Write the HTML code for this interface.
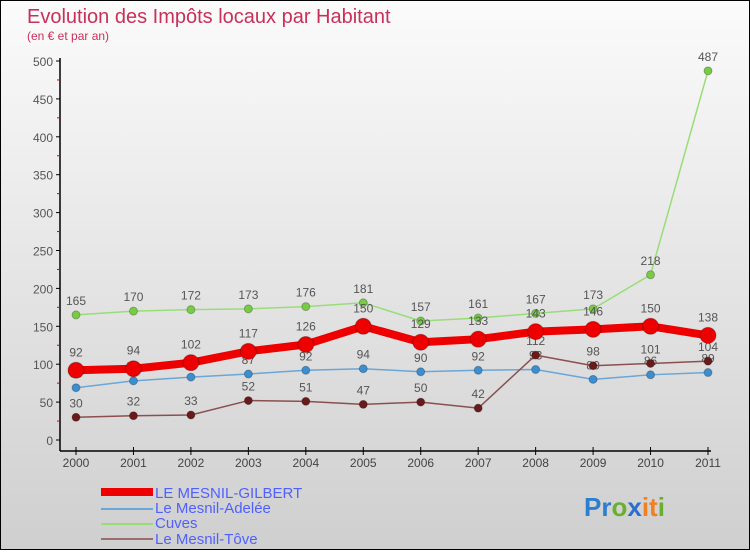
<!DOCTYPE html>
<html><head><meta charset="utf-8"><style>
html,body{margin:0;padding:0}
body{width:750px;height:550px;overflow:hidden;font-family:"Liberation Sans",sans-serif}
#wrap{position:relative;width:748px;height:548px;border:1px solid #000;background:linear-gradient(#fbfbfb,#cfcfcf)}
</style></head><body>
<div id="wrap">
<svg id="chart" width="748" height="548">
<text x="26" y="22" font-size="20" fill="#c8305a">Evolution des Impôts locaux par Habitant</text>
<text x="26" y="39" font-size="12" fill="#c8305a">(en € et par an)</text>
<g id="axes"></g><g id="series"></g>
<g>
<rect x="100" y="487" width="52" height="8" fill="#e00"/>
<text x="154" y="497" font-size="15" fill="#5060ff">LE MESNIL-GILBERT</text>
<rect x="100" y="507" width="52" height="2" fill="#6aa6d8"/>
<text x="154" y="512" font-size="15" fill="#5060ff">Le Mesnil-Adelée</text>
<rect x="100" y="522" width="52" height="2" fill="#99dd77"/>
<text x="154" y="527" font-size="15" fill="#5060ff">Cuves</text>
<rect x="100" y="537" width="52" height="2" fill="#9a6e6e"/>
<text x="154" y="543" font-size="15" fill="#5060ff">Le Mesnil-Tôve</text>
</g>
<text x="583" y="515" font-size="26" font-weight="bold"><tspan fill="#2a7fd0">Pr</tspan><tspan fill="#6ab030">o</tspan><tspan fill="#2a6fd0">x</tspan><tspan fill="#f08020">it</tspan><tspan fill="#6ab030">i</tspan></text>
</svg></div>
<script>
const years=["2000","2001","2002","2003","2004","2005","2006","2007","2008","2009","2010","2011"];
const gilbert=[92,94,102,117,126,150,129,133,143,146,150,138];
const adelee=[69,78,83,87,92,94,90,92,93,80,86,89];
const cuves=[165,170,172,173,176,181,157,161,167,173,218,487];
const tove=[30,32,33,52,51,47,50,42,112,98,101,104];
const yTicks=[0,50,100,150,200,250,300,350,400,450,500];
const NS="http://www.w3.org/2000/svg";
const X=i=>75+i*(707-75)/(years.length-1);
const Y=v=>439-v*(439-60)/500;
function mk(tag,attrs,parent){const e=document.createElementNS(NS,tag);for(const k in attrs)e.setAttribute(k,attrs[k]);parent.appendChild(e);return e;}
const ax=document.getElementById('axes'),sg=document.getElementById('series');
let l=mk('line',{x1:59,y1:Y(500)-3,x2:59,y2:450,stroke:'#000','stroke-width':1.5},ax);


l=mk('line',{x1:59,y1:450,x2:710,y2:450,stroke:'#000','stroke-width':1.5},ax);


yTicks.forEach(v=>{
 const t=mk('line',{x1:55,y1:Y(v),x2:59,y2:Y(v),stroke:'#000'},ax);
 
 
 if(v<500){const m=mk('line',{x1:56,y1:Y(v+25),x2:59,y2:Y(v+25),stroke:'#d00'},ax);
 
 }
 const tx=mk('text',{x:52,y:Y(v)+5,'font-size':12,fill:'#555','text-anchor':'end'},ax);tx.textContent=v;
 
 
});
years.forEach((y,i)=>{
 const t=mk('line',{x1:X(i),y1:446,x2:X(i),y2:454,stroke:'#000'},ax);
 
 
 const tx=mk('text',{x:X(i),y:466,'font-size':12,fill:'#444','text-anchor':'middle'},ax);tx.textContent=y;
 
 
});
function series(data,name,color,w,r,dot){
 const g=mk('g',{},sg);
 
 
 const p=mk('polyline',{points:data.map((v,i)=>X(i)+','+Y(v)).join(' '),fill:'none',stroke:color,'stroke-width':w,'stroke-linejoin':'round'},g);
 
 
 data.forEach((v,i)=>{
  const c=mk('circle',{cx:X(i),cy:Y(v),r:r,fill:dot,stroke:'rgba(0,0,0,0.25)'},g);
  
  
  const t=mk('text',{x:X(i),y:Y(v)-(r+6),'font-size':12,fill:'#555','text-anchor':'middle'},g);t.textContent=v;
  
  
 });
}
series(cuves,'cuves','#99dd77',1.5,4,'#77cc44');
series(adelee,'mesnil-adelee','#6aa6d8',1.5,4,'#3b8ed0');
series(tove,'mesnil-tove','#8a5050',1.5,4,'#6a1a1a');
series(gilbert,'mesnil-gilbert','#ee0000',8,8,'#ee0000');
</script>
</body></html>
